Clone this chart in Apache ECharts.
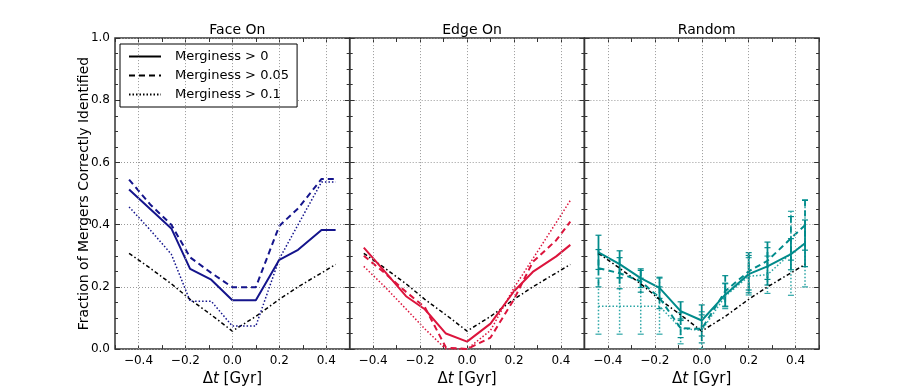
<!DOCTYPE html>
<html>
<head>
<meta charset="utf-8">
<script src="https://cdn.jsdelivr.net/npm/echarts@6/dist/echarts.min.js"></script>
<style>
  html, body { margin: 0; padding: 0; background: #fff; }
  #chart { width: 913px; height: 392px; }
</style>
</head>
<body>
<div id="chart"></div>
<script>
// time offsets of the snapshots (Gyr)
var dt = [-0.44, -0.35, -0.26, -0.18, -0.09, 0.0, 0.1, 0.2, 0.28, 0.38, 0.44]
// labelled x ticks / vertical grid lines
var xGridTicks = [-0.4, -0.2, 0.0, 0.2, 0.4]

var panelTitles = ['Face On', 'Edge On', 'Random']
var legendNames = ['Merginess > 0', 'Merginess > 0.05', 'Merginess > 0.1']

// black dash-dot reference curve (same in every panel)
var refLine = [0.308, 0.26, 0.21, 0.16, 0.11, 0.058, 0.105, 0.16, 0.20, 0.245, 0.272]

// Face On
var face0 = [0.513, 0.45, 0.388, 0.258, 0.223, 0.157, 0.157, 0.287, 0.319, 0.383, 0.383]
var face005 = [0.545, 0.465, 0.40, 0.295, 0.245, 0.199, 0.199, 0.396, 0.452, 0.547, 0.547]
var face01 = [0.457, 0.383, 0.305, 0.154, 0.154, 0.074, 0.074, 0.29, 0.40, 0.537, 0.537]

// Edge On
var edge0 = [0.326, 0.249, 0.17, 0.128, 0.05, 0.024, 0.082, 0.186, 0.248, 0.298, 0.335]
var edge005 = [0.30, 0.244, 0.184, 0.135, 0.005, 0.0, 0.037, 0.16, 0.28, 0.35, 0.41]
var edge01 = [0.266, 0.2, 0.129, 0.065, 0.0, 0.0, 0.06, 0.197, 0.29, 0.407, 0.478]

// Random (with error bars)
var rand0 = [0.311, 0.273, 0.228, 0.197, 0.122, 0.092, 0.175, 0.241, 0.266, 0.305, 0.34]
var rand0Err = [0.055, 0.043, 0.03, 0.034, 0.03, 0.05, 0.037, 0.06, 0.06, 0.05, 0.075]
var rand005 = [0.26, 0.244, 0.218, 0.165, 0.067, 0.065, 0.186, 0.25, 0.284, 0.356, 0.398]
var rand005Err = [0.06, 0.05, 0.035, 0.035, 0.03, 0.045, 0.05, 0.06, 0.06, 0.07, 0.08]
var rand01 = [0.138, 0.138, 0.138, 0.138, 0.067, 0.06, 0.17, 0.234, 0.239, 0.308, 0.34]
var rand01Err = [0.09, 0.09, 0.09, 0.09, 0.05, 0.06, 0.04, 0.06, 0.06, 0.135, 0.14]

var navy = '#14148c'
var red = '#dc143c'
var teal = '#008b8b'
var tealLight = '#2aa5a5'
var FONT = 'DejaVu Sans'

var DASH = [6, 4]
var DOT = [1.5, 2]
var DASHDOT = [4, 2.5, 1.5, 2.5]
var GRIDDOT = [1, 2]

var myChart = echarts.init(document.getElementById('chart'))

var gridLeft = 115, gridW = 234.7, gridTop = 38, gridH = 314

function pair (ys) {
    return dt.map(function (x, i) { return [x, ys[i]] })
}
function triple (ys, es) {
    return dt.map(function (x, i) { return [x, ys[i], es[i]] })
}
function fmtX (v) {
    var k = Math.round(v * 10)
    if (k % 2 !== 0) return ''
    var s = Math.abs(v).toFixed(1)
    return k < 0 ? '\u2212' + s : s
}

var grids = [], xAxes = [], yAxes = [], titles = [], series = []

for (var p = 0; p < 3; p++) {
    grids.push({
        left: gridLeft + p * gridW, top: gridTop, width: gridW, height: gridH,
        show: true, borderColor: '#333', borderWidth: 1.5, backgroundColor: 'transparent'
    })
    titles.push({
        text: panelTitles[p],
        left: gridLeft + p * gridW + gridW / 2, top: 18, textAlign: 'center',
        textStyle: { fontFamily: FONT, fontSize: 14, fontWeight: 'normal', color: '#000' }
    })
    // bottom x axis
    xAxes.push({
        gridIndex: p, type: 'value', min: -0.5, max: 0.5, interval: 0.1,
        name: '\u0394{i|t} [Gyr]', nameLocation: 'middle', nameGap: 19,
        nameTextStyle: { fontFamily: FONT, fontSize: 15, color: '#000',
            rich: { i: { fontFamily: FONT, fontSize: 15, fontStyle: 'italic', color: '#000' } } },
        axisLine: { show: false, onZero: false },
        axisTick: { inside: true, length: 4, lineStyle: { color: '#333' } },
        axisLabel: { formatter: fmtX, fontFamily: FONT, fontSize: 12, color: '#000', margin: 6 },
        splitLine: { show: false }
    })
    // top x axis (ticks only)
    xAxes.push({
        gridIndex: p, type: 'value', min: -0.5, max: 0.5, interval: 0.1, position: 'top',
        axisLine: { show: false, onZero: false }, axisLabel: { show: false },
        axisTick: { inside: true, length: 4, lineStyle: { color: '#333' } },
        splitLine: { show: false }
    })
    yAxes.push({
        gridIndex: p, type: 'value', min: 0, max: 1, interval: 0.2,
        name: p === 0 ? 'Fraction of Mergers Correctly Identified' : '',
        nameLocation: 'middle', nameGap: 24, nameMoveOverlap: false,
        nameTextStyle: { fontFamily: FONT, fontSize: 14, color: '#000' },
        axisLine: { show: false, onZero: false },
        axisTick: { inside: true, length: 5, lineStyle: { color: '#333' } },
        minorTick: { show: true, splitNumber: 4, length: 3, lineStyle: { color: '#333' } },
        axisLabel: { show: p === 0, formatter: function (v) { return v.toFixed(1) },
            fontFamily: FONT, fontSize: 12, color: '#000', margin: 5 },
        splitLine: { show: true, lineStyle: { color: '#999', type: GRIDDOT, width: 1 } }
    })
    yAxes.push({
        gridIndex: p, type: 'value', min: 0, max: 1, interval: 0.2, position: 'right',
        axisLine: { show: false, onZero: false }, axisLabel: { show: false },
        axisTick: { inside: true, length: 5, lineStyle: { color: '#333' } },
        minorTick: { show: true, splitNumber: 4, length: 3, lineStyle: { color: '#333' } },
        splitLine: { show: false }
    })
}

function lineSeries (p, name, ys, color, type, width) {
    return {
        name: name, type: 'line', xAxisIndex: p * 2, yAxisIndex: p * 2,
        data: pair(ys), showSymbol: false, symbol: 'none', silent: true,
        clip: true, animation: false,
        lineStyle: { color: color, type: type, width: width },
        itemStyle: { color: color }
    }
}

function errSeries (p, ys, es, color, dash, width) {
    return {
        type: 'custom', xAxisIndex: p * 2, yAxisIndex: p * 2, clip: true, silent: true,
        animation: false, data: triple(ys, es),
        renderItem: function (params, api) {
            var x = api.value(0), y = api.value(1), e = api.value(2)
            var top = api.coord([x, y + e])
            var bot = api.coord([x, y - e])
            var c = 3
            var st = { stroke: color, lineWidth: width, lineDash: dash }
            var cap = { stroke: color, lineWidth: 1.2 }
            return {
                type: 'group',
                children: [
                    { type: 'line', shape: { x1: top[0], y1: top[1], x2: bot[0], y2: bot[1] }, style: st },
                    { type: 'line', shape: { x1: top[0] - c, y1: top[1], x2: top[0] + c, y2: top[1] }, style: cap },
                    { type: 'line', shape: { x1: bot[0] - c, y1: bot[1], x2: bot[0] + c, y2: bot[1] }, style: cap }
                ]
            }
        }
    }
}

var panelData = [
    [face0, face005, face01, navy],
    [edge0, edge005, edge01, red],
    [rand0, rand005, rand01, teal]
]

for (var q = 0; q < 3; q++) {
    var d = panelData[q]
    var ref = lineSeries(q, 'ref' + q, refLine, '#000', DASHDOT, 1.5)
    // vertical grid lines at the labelled ticks only
    ref.markLine = {
        silent: true, animation: false, symbol: ['none', 'none'], label: { show: false },
        lineStyle: { color: '#999', type: GRIDDOT, width: 1 },
        emphasis: { disabled: true },
        data: xGridTicks.map(function (v) { return { xAxis: v } })
    }
    series.push(ref)
    if (q === 2) {
        series.push(errSeries(q, rand01, rand01Err, tealLight, DOT, 1.5))
        series.push(errSeries(q, rand005, rand005Err, teal, DASH, 1.8))
        series.push(errSeries(q, rand0, rand0Err, teal, null, 1.8))
    }
    series.push(lineSeries(q, 'dot' + q, d[2], q === 2 ? tealLight : d[3], DOT, 1.5))
    series.push(lineSeries(q, 'dash' + q, d[1], d[3], DASH, 2))
    series.push(lineSeries(q, 'solid' + q, d[0], d[3], 'solid', 2))
}

// legend entries (black lines, like the reference legend)
var legTypes = ['solid', DASH, DOT]
var legWidths = [2, 2, 1.5]
for (var k = 0; k < 3; k++) {
    series.push({
        name: legendNames[k], type: 'line', xAxisIndex: 0, yAxisIndex: 0, data: [],
        showSymbol: false, symbol: 'none',
        lineStyle: { color: '#000', type: legTypes[k], width: legWidths[k] },
        itemStyle: { color: '#000' }
    })
}

var option = {
    animation: false,
    title: titles,
    legend: {
        data: legendNames, orient: 'vertical', left: 120, top: 44,
        itemWidth: 32, itemHeight: 13, itemGap: 6,
        padding: [6, 8, 6, 8],
        backgroundColor: '#fff', borderColor: '#000', borderWidth: 1, borderRadius: 0,
        selectedMode: false,
        itemStyle: { opacity: 0, borderWidth: 0 },
        textStyle: { fontFamily: FONT, fontSize: 13, color: '#000', padding: [0, 0, 0, 9] }
    },
    grid: grids,
    xAxis: xAxes,
    yAxis: yAxes,
    series: series
}

myChart.setOption(option)
</script>
</body>
</html>
